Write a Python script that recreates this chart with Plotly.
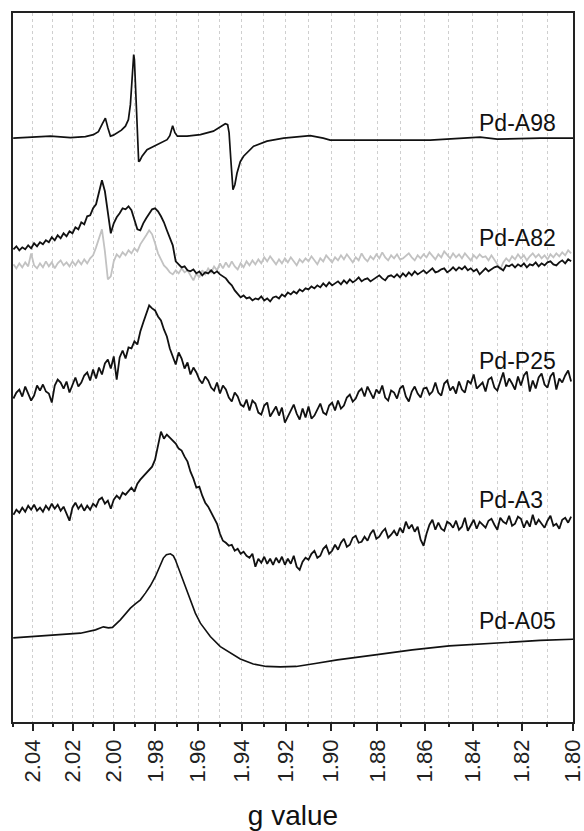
import plotly.graph_objects as go

# B = K / g  (K = h*nu/muB, in mT) -> spectra recorded on a linear field sweep
K_MT = 700.0

# common field sweep (mT) for the noisy spectra
field_mT = [
    341.50, 341.75, 342.00, 342.25, 342.50, 342.75, 343.00, 343.25, 343.50, 343.75,
    344.00, 344.25, 344.50, 344.75, 345.00, 345.25, 345.50, 345.75, 346.00, 346.25,
    346.50, 346.75, 347.00, 347.25, 347.50, 347.75, 348.00, 348.25, 348.50, 348.75,
    349.00, 349.25, 349.50, 349.75, 350.00, 350.25, 350.50, 350.75, 351.00, 351.25,
    351.50, 351.75, 352.00, 352.25, 352.50, 352.75, 353.00, 353.25, 353.50, 353.75,
    354.00, 354.25, 354.50, 354.75, 355.00, 355.25, 355.50, 355.75, 356.00, 356.25,
    356.50, 356.75, 357.00, 357.25, 357.50, 357.75, 358.00, 358.25, 358.50, 358.75,
    359.00, 359.25, 359.50, 359.75, 360.00, 360.25, 360.50, 360.75, 361.00, 361.25,
    361.50, 361.75, 362.00, 362.25, 362.50, 362.75, 363.00, 363.25, 363.50, 363.75,
    364.00, 364.25, 364.50, 364.75, 365.00, 365.25, 365.50, 365.75, 366.00, 366.25,
    366.50, 366.75, 367.00, 367.25, 367.50, 367.75, 368.00, 368.25, 368.50, 368.75,
    369.00, 369.25, 369.50, 369.75, 370.00, 370.25, 370.50, 370.75, 371.00, 371.25,
    371.50, 371.75, 372.00, 372.25, 372.50, 372.75, 373.00, 373.25, 373.50, 373.75,
    374.00, 374.25, 374.50, 374.75, 375.00, 375.25, 375.50, 375.75, 376.00, 376.25,
    376.50, 376.75, 377.00, 377.25, 377.50, 377.75, 378.00, 378.25, 378.50, 378.75,
    379.00, 379.25, 379.50, 379.75, 380.00, 380.25, 380.50, 380.75, 381.00, 381.25,
    381.50, 381.75, 382.00, 382.25, 382.50, 382.75, 383.00, 383.25, 383.50, 383.75,
    384.00, 384.25, 384.50, 384.75, 385.00, 385.25, 385.50, 385.75, 386.00, 386.25,
    386.50, 386.75, 387.00, 387.25, 387.50, 387.75, 388.00, 388.25, 388.50, 388.75,
]

a82_black = [
    0, 3, -1, 2, 0, 4, 1, 6, 3, 7,
    5, 9, 7, 12, 9, 14, 11, 16, 13, 18,
    16, 22, 20, 27, 25, 33, 34, 41, 45, 56,
    69, 58, 35, 16, 26, 32, 36, 41, 40, 43,
    39, 30, 20, 19, 26, 31, 36, 40, 41, 38,
    33, 27, 19, 12, 4, -12, -15, -18, -17, -21,
    -22, -20, -24, -22, -26, -23, -24, -21, -24, -22,
    -25, -27, -29, -33, -36, -41, -44, -48, -46, -49,
    -48, -51, -49, -50, -47, -51, -49, -52, -48, -47,
    -49, -45, -47, -43, -45, -42, -44, -40, -42, -39,
    -40, -37, -39, -36, -38, -34, -37, -33, -36, -34,
    -32, -35, -31, -34, -30, -33, -31, -28, -32, -30,
    -29, -32, -30, -28, -26, -29, -31, -27, -26, -28,
    -25, -28, -24, -27, -23, -26, -22, -25, -23, -21,
    -24, -21, -19, -23, -22, -20, -19, -23, -21, -18,
    -21, -18, -20, -17, -21, -19, -22, -20, -25, -22,
    -19, -22, -20, -18, -17, -19, -21, -16, -17, -15,
    -18, -15, -17, -14, -18, -15, -16, -13, -17, -14,
    -16, -13, -12, -15, -16, -13, -11, -14, -10, -12,
]

a82_grey = [
    -15, -19, -14, -18, -13, -17, -4, -16, -19, -14,
    -18, -12, -17, -13, -19, -14, -11, -16, -13, -17,
    -12, -16, -11, -15, -10, -14, -9, -6, 2, 12,
    20, -2, -30, -27, -12, -5, -8, -3, -6, -1,
    -4, 1, -2, 5, 9, 14, 19, 15, 6, -4,
    -10, -16, -19, -23, -25, -21, -24, -19, -23, -21,
    -26, -31, -24, -28, -21, -25, -19, -23, -17, -21,
    -14, -19, -13, -18, -12, -17, -20, -14, -18, -12,
    -16, -11, -15, -10, -14, -8, -12, -7, -11, -15,
    -10, -14, -9, -13, -8, -12, -16, -10, -13, -9,
    -12, -7, -11, -15, -9, -12, -6, -10, -13, -8,
    -11, -6, -10, -5, -9, -13, -8, -11, -4, -9,
    -12, -7, -10, -5, -9, -3, -8, -11, -6, -9,
    -5, -10, -9, -6, -4, -8, -11, -6, -9, -5,
    -8, -3, -7, -10, -5, -8, -2, -6, -9, -4,
    -8, -5, -9, -4, -7, -11, -6, -9, -5, -8,
    -7, -11, -6, -10, -15, -20, -13, -9, -12, -7,
    -10, -5, -9, -6, -11, -7, -4, -8, -5, -9,
    -6, -10, -5, -8, -4, -7, -3, -6, -1, -4,
]

p25 = [
    -4, 2, 5, -2, 8, 1, -6, -1, 9, 4,
    10, 3, 1, -8, 9, 15, 12, 6, 13, 2,
    10, 17, 8, 12, 19, 22, 14, 25, 16, 27,
    20, 31, 35, 26, 38, 15, 37, 44, 36, 47,
    46, 53, 50, 63, 72, 80, 89, 86, 84, 78,
    74, 65, 58, 46, 38, 30, 42, 36, 26, 32,
    20, 27, 22, 15, 11, 18, 14, 7, 4, 12,
    1, 9, 5, -3, -7, 2, -2, -10, -12, -5,
    -16, -6, -9, -18, -20, -11, -8, -22, -17, -12,
    -21, -13, -28, -22, -15, -10, -19, -25, -14, -23,
    -12, -24, -21, -15, -9, -18, -20, -11, -8, -16,
    -6, -14, -11, -3, 0, -7, -4, 3, 6, -2,
    8, 2, -4, 5, 1, 9, -3, -6, 4, 2,
    -4, 6, 9, -2, -7, 3, 8, 1, -3, 6,
    7, 0, 3, 12, 2, -1, 11, 14, 4, 8,
    1, 13, 5, 2, 14, 11, 20, 6, 9, 12,
    3, 15, 17, 7, 4, 13, 22, 8, 16, 11,
    5, 18, 9, 19, 23, 3, 14, 6, 17, 21,
    10, 7, 18, 22, 5, 16, 12, 19, 24, 13,
]

a3 = [
    -3, 2, -1, 4, 0, 6, 2, 7, 1, 4,
    0, 6, 2, 8, 3, 7, 1, 5, -2, -9,
    4, 9, 3, 7, 1, 6, 2, 8, 5, 12,
    14, 8, 11, 3, 12, 16, 13, 19, 17, 21,
    24, 20, 28, 32, 35, 38, 41, 45, 52, 66,
    80, 73, 77, 74, 71, 68, 63, 61, 55, 50,
    40, 33, 24, 25, 16, 9, 5, -1, -6, -12,
    -22, -29, -31, -34, -33, -39, -37, -42, -40, -44,
    -46, -42, -55, -47, -51, -45, -52, -47, -53, -46,
    -51, -45, -53, -47, -52, -44, -55, -58, -50, -46,
    -48, -42, -39, -46, -44, -37, -34, -42, -39, -33,
    -38, -31, -27, -35, -33, -26, -24, -31, -30, -25,
    -29, -22, -18, -27, -25, -20, -17, -26, -23, -19,
    -24, -16, -21, -10, -17, -13, -20, -15, -28, -34,
    -22, -13, -8, -18, -11, -17, -19, -10, -12, -16,
    -9, -18, -15, -6, -19, -14, -8, -17, -10, -13,
    -16, -9, -7, -13, -18, -6, -10, -12, -4, -14,
    -12, -5, -7, -16, -9, -15, -3, -13, -8, -12,
    -16, -9, -4, -14, -12, -17, -8, -6, -11, -5,
]

# smoother spectra, read at their own field points (mT)
a98_field = [341.48, 344.64, 346.33, 347.60, 348.28, 348.70, 349.04, 349.29, 349.50, 349.72,
             349.97, 350.28, 350.65, 350.99, 351.24, 351.41, 351.54, 351.64, 351.69, 351.75,
             351.83, 351.96, 352.11, 352.21, 352.40, 352.82, 353.67, 354.52, 354.75, 354.99,
             355.18, 355.39, 356.21, 357.34, 358.44, 359.20, 359.45, 359.65, 359.77, 359.92,
             360.10, 360.26, 360.44, 360.72, 361.00, 361.85, 362.98, 364.39, 365.80, 366.65,
             367.75, 368.34, 372.58, 376.81, 381.04, 382.48, 386.12, 388.92]
a98_int = [0, 2, 0.5, 1.5, 3.5, 6.5, 14.5, 20, 10.5, 2,
           3, 5, 8, 12, 18.5, 33.5, 58.5, 78.5, 83.5, 78.5,
           53.5, 8.5, -23.5, -22.5, -18, -11.5, -6.5, -1.5, 2.5, 12.5,
           5.5, 2, 2, 3.5, 7, 12, 14.5, 13.5, 5.5, -21.5,
           -51.5, -46.5, -35, -23.5, -18, -8, -3, 0, 2, 2.5,
           0, -2, -2, -2, 1, -1, 0, 0]

a05_field = [341.48, 344.64, 347.18, 348.45, 349.12, 349.55, 349.89, 350.56, 351.41, 351.83,
             352.26, 352.68, 353.10, 353.53, 353.95, 354.20, 354.46, 354.80, 355.05, 355.22,
             355.64, 356.07, 356.49, 356.91, 357.34, 357.76, 358.18, 359.03, 359.88, 360.72,
             361.82, 362.92, 364.11, 365.46, 367.07, 368.94, 372.15, 375.29, 378.42, 382.57,
             386.12, 388.92]
a05_int = [0, 3, 4.7, 8, 11, 10, 10.5, 18, 29.7, 34,
           38, 44.7, 52, 61.3, 73, 79.7, 83, 84, 82, 78,
           64.7, 51.3, 38, 24.7, 14.7, 7.5, 1.3, -8.7, -15.3, -21,
           -26, -28.5, -29, -28.5, -25.5, -22, -17, -12, -8, -4.7,
           -2.5, -1.3]

# vertical stacking offsets of the spectra
offsets = {"Pd-A98": 583, "Pd-A82": 472, "Pd-P25": 327, "Pd-A3": 210, "Pd-A05": 84}

g_major = [2.04, 2.02, 2.00, 1.98, 1.96, 1.94, 1.92, 1.90, 1.88, 1.86, 1.84, 1.82, 1.80]
g_labels = ["2.04", "2.02", "2.00", "1.98", "1.96", "1.94", "1.92", "1.90", "1.88", "1.86", "1.84", "1.82", "1.80"]
g_minor = [2.05, 2.03, 2.01, 1.99, 1.97, 1.95, 1.93, 1.91, 1.89, 1.87, 1.85, 1.83, 1.81]

FONT = "Liberation Sans, Arial, sans-serif"
BLACK = "#111111"

fig = go.Figure()


def add(xs, ys, off, color, width):
    fig.add_trace(go.Scatter(x=xs, y=[off + v for v in ys], mode="lines",
                             line=dict(color=color, width=width), showlegend=False,
                             hoverinfo="skip", cliponaxis=True))


add(a98_field, a98_int, offsets["Pd-A98"], BLACK, 1.7)
add(field_mT, a82_grey, offsets["Pd-A82"], "#c2c2c2", 1.8)
add(field_mT, a82_black, offsets["Pd-A82"], BLACK, 1.8)
add(field_mT, p25, offsets["Pd-P25"], BLACK, 1.8)
add(field_mT, a3, offsets["Pd-A3"], BLACK, 1.8)
add(a05_field, a05_int, offsets["Pd-A05"], BLACK, 1.6)

label_x = 380.79
label_dy = {"Pd-A98": 15, "Pd-A82": 11, "Pd-P25": 33, "Pd-A3": 12, "Pd-A05": 17}
for name, off in offsets.items():
    fig.add_annotation(x=label_x, y=off + label_dy[name], xref="x", yref="y", text=name,
                       showarrow=False, xanchor="left", yanchor="middle",
                       font=dict(family=FONT, size=23, color=BLACK))

grid = dict(showgrid=True, gridcolor="#cfcfcf", griddash="dot", gridwidth=1)

fig.update_layout(
    width=584, height=831, autosize=False,
    margin=dict(l=13, r=11, t=13, b=109),
    paper_bgcolor="white", plot_bgcolor="white",
    showlegend=False,
    xaxis=dict(
        range=[K_MT / 2.05, K_MT / 1.7999],
        automargin=False,
        tickmode="array",
        tickvals=[K_MT / g for g in g_major],
        ticktext=g_labels,
        tickangle=-90,
        ticklabeloverflow="allow",
        ticks="outside", ticklen=7, tickwidth=1.5, tickcolor="#222222",
        showline=True, linecolor="#222222", linewidth=1.6, mirror=True,
        zeroline=False,
        tickfont=dict(family=FONT, size=22, color="#222222"),
        title=dict(text="g value", font=dict(family=FONT, size=28, color="#111111"), standoff=28),
        minor=dict(tickmode="array", tickvals=[K_MT / g for g in g_minor],
                   ticks="outside", ticklen=3, tickwidth=1.5, tickcolor="#222222", **grid),
        **grid,
    ),
    yaxis=dict(
        range=[0, 708],
        automargin=False,
        showline=True, linecolor="#222222", linewidth=1.6, mirror=True,
        showticklabels=False, ticks="", showgrid=False, zeroline=False,
    ),
)

fig.write_html("out.html")
